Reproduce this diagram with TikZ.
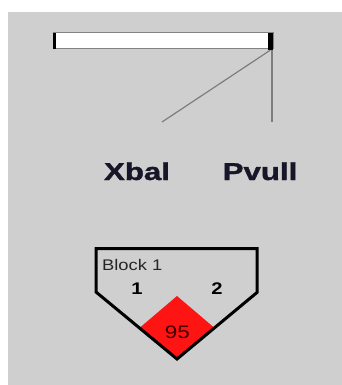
\documentclass[tikz,border=0pt]{standalone}
\usepackage{fontspec}
\setmainfont{Liberation Sans}
\newfontfamily\heavysans[FakeBold=1.2]{Liberation Sans Bold}
\definecolor{panel}{RGB}{207,207,207}
\definecolor{rim}{RGB}{130,130,130}
\definecolor{wire}{RGB}{125,125,125}
\definecolor{ink}{RGB}{22,22,40}
\definecolor{hot}{RGB}{255,20,20}
\definecolor{hotink}{RGB}{60,0,0}
\tikzset{
  barbox/.style={draw=rim, fill=white, line width=1pt, minimum width=220pt, minimum height=15.5pt, inner sep=0pt},
  capbox/.style={fill=black, inner sep=0pt},
  wireline/.style={draw=wire, line width=1.2pt},
  bigname/.style={text=ink, inner sep=0pt, anchor=base, font=\heavysans\fontsize{24.4}{28}\selectfont},
  plate/.style={draw=black, line width=3pt, line join=miter},
  smalltxt/.style={text=black!85, inner sep=0pt, font=\fontsize{15.4}{18}\selectfont},
  portno/.style={text=black, inner sep=0pt, anchor=base, font=\bfseries\fontsize{16.8}{20}\selectfont},
}
\begin{document}
\begin{tikzpicture}[x=1pt,y=-1pt]
\useasboundingbox (0,0) rectangle (342,385);
\fill[white] (0,0) rectangle (342,385);
\fill[panel] (8,12) rectangle (342,385);

% horizontal bar with its end caps
\node[barbox] (bar) at (163,40.75) {};
\node[capbox, minimum width=2.5pt, minimum height=16pt] (endL) at (54.25,41) {};
\node[capbox, minimum width=5.5pt, minimum height=17pt] (endR) at (270.25,41.5) {};

% leads hanging from the right end
\coordinate (xd) at (162,122);
\coordinate (xv) at (272,122);
\draw[wireline] (endR.south) -- (xd);
\draw[wireline] (endR.south -| xv) -- (xv);

% signal names
\node[bigname] (xbal) at (137,180) {\scalebox{1.28}[1]{Xbal}};
\node[bigname] (pvull) at (260,180) {\scalebox{1.28}[1]{Pvull}};

% block plate
\coordinate (tl) at (96,248.5);
\coordinate (tr) at (257,248.5);
\coordinate (rs) at (257,292.5);
\coordinate (bt) at (177,359);
\coordinate (ls) at (96,292);
\coordinate (dt) at (177,296);
\coordinate (dl) at (140,327.5);
\coordinate (dr) at (214,327.5);
\fill[hot] (dt) -- (dr) -- (bt) -- (dl) -- cycle;
\draw[plate] (tl) -- (tr) -- (rs) -- (bt) -- (ls) -- cycle;

\node[smalltxt, anchor=base west] (blk) at (102,270) {\scalebox{1.19}[1]{Block 1}};
\node[portno] (p1) at (137,294) {\scalebox{1.2}[1]{1}};
\node[portno] (p2) at (217,294) {\scalebox{1.2}[1]{2}};
\node[text=hotink, inner sep=0pt, anchor=base, font=\fontsize{18}{21}\selectfont] (val) at (177.5,338) {\scalebox{1.25}[1]{95}};
\end{tikzpicture}
\end{document}
